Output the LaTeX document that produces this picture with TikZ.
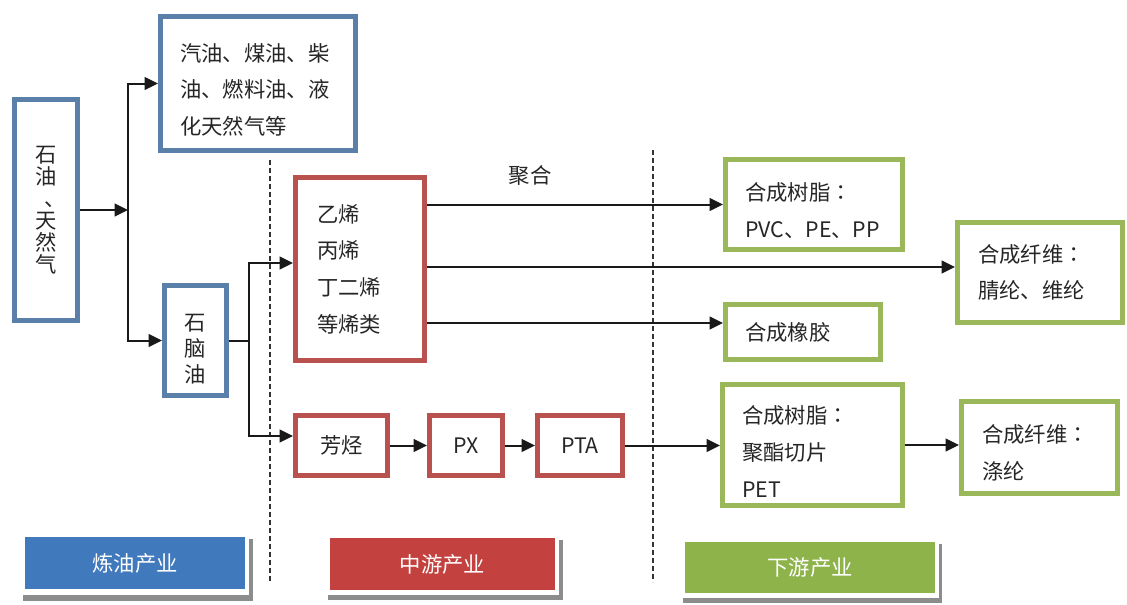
\documentclass[tikz,border=0pt]{standalone}
\usepackage{fontspec}
\setmainfont{Noto Sans CJK SC}
\newfontfamily\tcfont{Noto Sans CJK TC}
\newcommand{\colonc}{{\tcfont ：}}
\newcommand{\topgap}[1]{\rule{0pt}{#1}}
\usetikzlibrary{arrows.meta,calc}
\definecolor{bblue}{HTML}{5A7FA8}
\definecolor{bred}{HTML}{B9524F}
\definecolor{bgreen}{HTML}{9AB85A}
\definecolor{fblue}{HTML}{4179BD}
\definecolor{fred}{HTML}{C3413F}
\definecolor{fgreen}{HTML}{8EB34A}
\definecolor{txt}{HTML}{262626}
\tikzset{
  box/.style={rectangle, line width=3.5pt, fill=white, inner sep=0pt, text=txt,
    font=\fontsize{16}{27.5}\selectfont},
  bluebox/.style={box, draw=bblue},
  redbox/.style={box, draw=bred},
  greenbox/.style={box, draw=bgreen},
  sz/.style 2 args={minimum width={#1*0.75pt}, minimum height={#2*0.75pt}},
  conn/.style={line width=1.5pt, draw=black!90},
  arr/.style={conn, -{Triangle[length=10pt,width=9.5pt]}},
  divider/.style={line width=1.8pt, draw=black!80, dash pattern=on 3.5pt off 2.5pt},
  tag/.style={rectangle, inner sep=0pt, text=white, font=\fontsize{16}{18}\selectfont},
  shadowbar/.style={fill=black!45},
}
\begin{document}
\begin{tikzpicture}[x=0.75pt, y=-0.75pt]
\useasboundingbox (0,0) rectangle (1127,604);
\fill[white] (0,0) rectangle (1127,604);

% dividers
\coordinate (d1t) at (270,160); \coordinate (d1b) at (270,582);
\coordinate (d2t) at (653,150); \coordinate (d2b) at (653,582);
\draw[divider] (d1t) -- (d1b);
\draw[divider] (d2t) -- (d2b);

% refining
\node[bluebox, sz={63.5}{221.5}, align=center, font=\fontsize{16}{16.5}\selectfont] (oil) at (46,210)
  {石\\油\\\kern0.44em、\kern-0.44em\\天\\然\\气};
\node[bluebox, sz={195.5}{134.5}, align=left, text width=117pt] (fuel) at (258,83.5)
  {\topgap{23pt}汽油、煤油、柴\\油、燃料油、液\\化天然气等};
\node[bluebox, sz={62.5}{110.5}, align=center, font=\fontsize{16}{19.5}\selectfont] (naph) at (195.5,340.5)
  {\topgap{24.5pt}石\\脑\\油};

% midstream
\node[redbox, sz={129.5}{183.5}, align=left, text width=64.5pt] (olef) at (360,269)
  {乙烯\\丙烯\\丁二烯\\等烯类};
\node[redbox, sz={92.5}{60.5}] (arom) at (341.5,445.5) {芳烃};
\node[redbox, sz={73.5}{60.5}] (px) at (466,445.5) {PX};
\node[redbox, sz={85.5}{60.5}] (pta) at (580,445.5) {PTA};
\node[text=txt, font=\fontsize{16}{18}\selectfont, inner sep=0pt] (jh) at (530,175) {聚合};

% downstream
\node[greenbox, sz={177.5}{90.5}, align=left, text width=103.5pt] (resin1) at (814,204.5)
  {\topgap{23pt}合成树脂\colonc\\PVC、PE、PP};
\node[greenbox, sz={165.5}{100.5}, align=left, text width=93pt] (fiber1) at (1040,272.5)
  {合成纤维\colonc\\腈纶、维纶};
\node[greenbox, sz={155.5}{55.5}, align=left, text width=87pt] (rubber) at (803,332)
  {合成橡胶};
\node[greenbox, sz={180.5}{121.5}, align=left, text width=105.75pt] (pet) at (812.5,445)
  {\topgap{23pt}合成树脂\colonc\\聚酯切片\\PET};
\node[greenbox, sz={156.5}{91.5}, align=left, text width=86.25pt] (poly) at (1039.5,447.5)
  {\topgap{21.5pt}合成纤维\colonc\\涤纶};

% connectors
\coordinate (j1) at (128,210);
\draw[arr] (oil.east) -- (j1);
\draw[arr] (j1) |- (fuel.west);
\draw[arr] (j1) |- (naph.west);
\coordinate (j2) at (249,340.5);
\draw[conn] (naph.east) -- (j2);
\draw[arr] (j2) |- ($(olef.west)+(0,-6)$);
\draw[arr] (j2) |- ($(arom.west)+(0,-9.5)$);
\draw[arr] (arom) -- (px);
\draw[arr] (px) -- (pta);
\draw[arr] (pta.east) -- (pta.east -| pet.west);
\draw[arr] (olef.east |- resin1.west) -- (resin1.west);
\draw[arr] ($(olef.east)+(0,-2)$) coordinate (f0) -- (f0 -| fiber1.west);
\draw[arr] ($(olef.east)+(0,54)$) coordinate (r0) -- (r0 -| rubber.west);
\draw[arr] (pet.east) -- (pet.east -| poly.west);

% bottom tags
\fill[shadowbar] (23,539) rectangle (253,601);
\fill[white] (21,533) rectangle (249,595);
\node[tag, fill=fblue, minimum width=165pt, minimum height=39pt] (t1) at (135,563) {炼油产业};

\fill[shadowbar] (328,540) rectangle (563,600);
\fill[white] (326,534) rectangle (559,595);
\node[tag, fill=fred, minimum width=168.75pt, minimum height=39pt] (t2) at (442.5,564) {中游产业};

\fill[shadowbar] (683,544) rectangle (942,603);
\fill[white] (681,538) rectangle (939,598);
\node[tag, fill=fgreen, minimum width=187.5pt, minimum height=38.25pt] (t3) at (810,567.5) {下游产业};
\end{tikzpicture}
\end{document}
